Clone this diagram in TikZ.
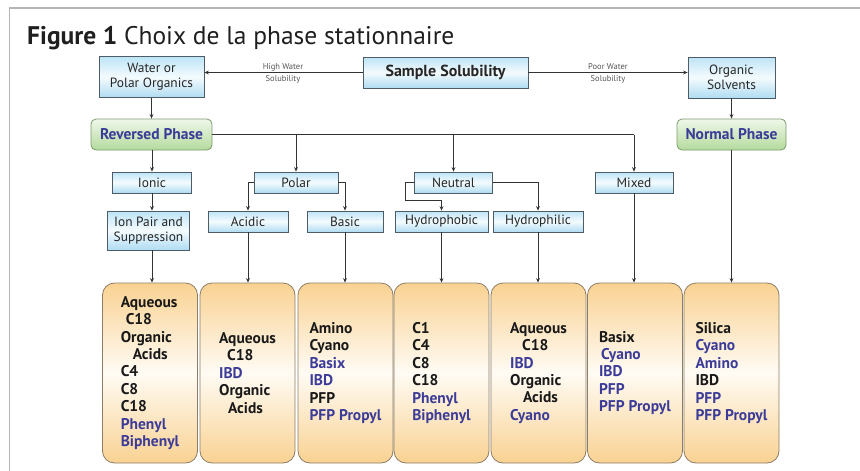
\documentclass[tikz,border=0pt]{standalone}
\usepackage{fontspec}
\setmainfont{PT Sans}
\usetikzlibrary{arrows.meta}
\definecolor{txtblue}{HTML}{3B3B98}
\definecolor{framegrey}{HTML}{B4B4B4}
\definecolor{boxborder}{HTML}{4E5C66}
\definecolor{bluetop}{HTML}{BDE4F6}
\definecolor{bluemid}{HTML}{F4FBFE}
\definecolor{bluebot}{HTML}{B0DCF2}
\definecolor{greentop}{HTML}{F0F8EA}
\definecolor{greenbot}{HTML}{B3DA9C}
\definecolor{greenborder}{HTML}{7C9A6C}
\definecolor{orangetop}{HTML}{F9D292}
\definecolor{orangemid}{HTML}{FFFBF4}
\definecolor{orangeborder}{HTML}{8C7D66}
\definecolor{linec}{HTML}{333333}
\definecolor{labgrey}{HTML}{555555}
\newcommand{\bl}[1]{\textcolor{txtblue}{#1}}
\begin{document}
\begin{tikzpicture}[x=1pt,y=-1pt,
  bbox/.style={draw=boxborder, line width=0.7pt, top color=bluetop, bottom color=bluebot, middle color=bluemid,
    inner sep=1pt, align=center, text=black!85, font=\fontsize{13.4}{15}\selectfont},
  gbox/.style={draw=greenborder, line width=0.8pt, rounded corners=5pt, top color=greentop, bottom color=greenbot,
    inner sep=1pt, align=center, text=txtblue, font=\bfseries\fontsize{15.5}{17}\selectfont, minimum height=31pt},
  obox/.style={draw=orangeborder, line width=0.8pt, rounded corners=12pt, top color=orangetop, bottom color=orangetop, middle color=orangemid,
    minimum width=95pt, minimum height=180pt, inner sep=0pt},
  otxt/.style={align=left, inner sep=0pt, font=\bfseries\fontsize{15.5}{17.4}\selectfont, text=black!90},
  lab/.style={align=center, inner sep=0pt, text=labgrey, font=\fontsize{8.5}{12.5}\selectfont},
  ln/.style={draw=linec, line width=0.8pt},
  arr/.style={draw=linec, line width=0.8pt, -{Stealth[length=4.5pt,width=3.8pt]}}
]
\useasboundingbox (0,0) rectangle (860,471);
\draw[framegrey, line width=1.5pt] (9.5,471) -- (9.5,8) -- (860,8);
\node[anchor=base west, inner sep=0pt, text=black!88, font=\fontsize{25.5}{28}\selectfont] (title) at (27,44)
  {\textbf{Figure 1} Choix de la phase stationnaire};

% top row
\node[bbox, minimum width=105pt, minimum height=41pt] (water) at (151.5,77) {Water or\\Polar Organics};
\node[bbox, minimum width=165pt, minimum height=31pt, font=\bfseries\fontsize{16}{18}\selectfont] (sample) at (445.5,72.5) {Sample Solubility};
\node[bbox, minimum width=87pt, minimum height=41pt] (organic) at (731.5,77.5) {Organic\\Solvents};
\node[lab] (hw) at (283,73.5) {High Water\\Solubility};
\node[lab] (pw) at (608,73.5) {Poor Water\\Solubility};

% phases
\node[gbox, minimum width=121pt] (rev) at (151.5,134.5) {Reversed Phase};
\node[gbox, minimum width=109pt] (normal) at (731.5,134.5) {Normal Phase};

% second row
\node[bbox, minimum width=79pt, minimum height=21pt] (ionic) at (152,182.5) {Ionic};
\node[bbox, minimum width=84pt, minimum height=21pt] (polar) at (296,182.5) {Polar};
\node[bbox, minimum width=78pt, minimum height=21pt] (neutral) at (453.5,182.5) {Neutral};
\node[bbox, minimum width=78pt, minimum height=21pt] (mixed) at (634,182.5) {Mixed};

% third row
\node[bbox, minimum width=82pt, minimum height=39pt] (ionpair) at (148.5,230.5) {Ion Pair and\\Suppression};
\node[bbox, minimum width=80pt, minimum height=21pt] (acidic) at (248,221.5) {Acidic};
\node[bbox, minimum width=76pt, minimum height=21pt] (basic) at (345,221.5) {Basic};
\node[bbox, minimum width=93pt, minimum height=21pt] (hphob) at (441.5,221.5) {Hydrophobic};
\node[bbox, minimum width=90pt, minimum height=21pt] (hphil) at (538,221.5) {Hydrophilic};

% bottom boxes
\node[obox] (b1) at (150,373) {};
\node[obox] (b2) at (247.5,373) {};
\node[obox] (b3) at (345.5,373) {};
\node[obox] (b4) at (441.5,373) {};
\node[obox] (b5) at (538.5,373) {};
\node[obox] (b6) at (635,373) {};
\node[obox] (b7) at (731.5,373) {};

\node[otxt] (t1) at (b1) {Aqueous\\\hspace*{5pt}C18\\Organic\\\hspace*{12pt}Acids\\C4\\C8\\C18\\\bl{Phenyl}\\\bl{Biphenyl}};
\node[otxt] (t2) at (b2) {Aqueous\\\hspace*{8pt}C18\\\bl{IBD}\\Organic\\\hspace*{9pt}Acids};
\node[otxt] (t3) at (b3) {Amino\\Cyano\\\bl{Basix}\\\bl{IBD}\\PFP\\\bl{PFP Propyl}};
\node[otxt] (t4) at (b4) {C1\\C4\\C8\\C18\\\bl{Phenyl}\\\bl{Biphenyl}};
\node[otxt] (t5) at (b5) {Aqueous\\\hspace*{12pt}C18\\\bl{IBD}\\Organic\\\hspace*{13pt}Acids\\\bl{Cyano}};
\node[otxt] (t6) at (b6) {Basix\\\hspace*{2pt}\bl{Cyano}\\\bl{IBD}\\\bl{PFP}\\\bl{PFP Propyl}};
\node[otxt] (t7) at (b7) {Silica\\\bl{Cyano}\\\bl{Amino}\\IBD\\\bl{PFP}\\\bl{PFP Propyl}};

% connectors
\draw[arr] (sample.west) -- (sample.west -| water.east);
\draw[arr] (sample.east) -- (sample.east -| organic.west);
\draw[arr] (water.south) -- (rev.north);
\draw[arr] (organic.south) -- (normal.north);
\coordinate (busend) at (rev.east -| mixed.north);
\draw[ln] (rev.east) -- (busend);
\draw[arr] (busend) -- (mixed.north);
\draw[arr] (rev.east -| polar.north) -- (polar.north);
\draw[arr, line width=1.3pt] (rev.east -| neutral.north) -- (neutral.north);
\draw[arr] (rev.south -| ionic.north) -- (ionic.north);
\draw[arr] (ionic.south) -- (ionic.south |- ionpair.north);
\draw[arr] (polar.west) -| (acidic.north);
\draw[arr] (polar.east) -| (basic.north);
\draw[arr] (neutral.west) -- ++(-9,0) |- ([yshift=10pt]hphob.north) -- (hphob.north);
\draw[arr] (neutral.east) -| (hphil.north);
\draw[arr] (ionic.south |- ionpair.south) -- (ionic.south |- b1.north);
\draw[arr] (acidic.south) -- (acidic.south |- b2.north);
\draw[arr] (basic.south) -- (basic.south |- b3.north);
\draw[arr] (hphob.south) -- (hphob.south |- b4.north);
\draw[arr] (hphil.south) -- (hphil.south |- b5.north);
\draw[arr] (mixed.south) -- (mixed.south |- b6.north);
\draw[arr] (normal.south) -- (normal.south |- b7.north);
\end{tikzpicture}
\end{document}
